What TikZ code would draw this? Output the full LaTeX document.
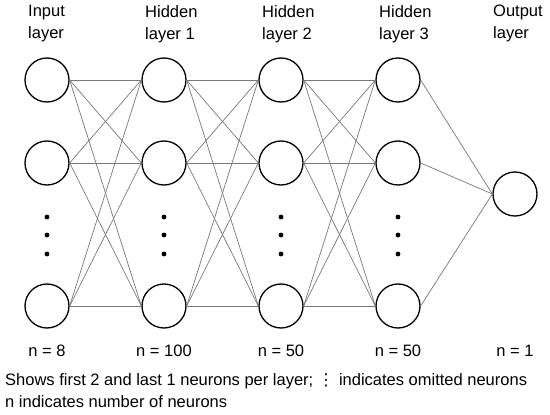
\documentclass[tikz,border=0pt]{standalone}
\usepackage{fontspec}
\setmainfont{Liberation Sans}
\newfontfamily\symfont{DejaVu Sans}
\usepackage{tikz}
\definecolor{linkgray}{RGB}{120,120,120}

\begin{document}
\begin{tikzpicture}[x=1pt, y=-1pt,
  every node/.style={font=\fontsize{16.5}{22}\selectfont, inner sep=0pt},
  neuron/.style={draw=black, fill=white, line width=1.3pt, circle, minimum size=44pt},
  link/.style={draw=linkgray, line width=0.7pt},
  omitted/.style={fill=black}]
  \useasboundingbox (0,0) rectangle (550,415);
  % three shown neurons per layer, dots for the rest
  \foreach \l/\x in {0/47,1/164,2/281,3/398} {
    \node[neuron] (n\l-1) at (\x,80) {};
    \node[neuron] (n\l-2) at (\x,163) {};
    \node[neuron] (n\l-3) at (\x,306) {};
    \foreach \y in {217,235,254}
      \fill[omitted] (\x,\y) circle (2.4pt);
  }
  \node[neuron] (out) at (515,194) {};
  % all links between neighbouring layers
  \foreach \l [evaluate=\l as \m using int(\l+1)] in {0,1,2}
    \foreach \i in {1,2,3}
      \foreach \j in {1,2,3}
        \draw[link] (n\l-\i.east) -- (n\m-\j.west);
  \foreach \i in {1,2,3}
    \draw[link] (n3-\i.east) -- (out.west);
  % layer titles and sizes
  \foreach \x/\n in {47/8, 164/100, 281/50, 398/50, 515/1}
    \node[anchor=base] (size\x) at (\x,356) {n = \n};
  \node[anchor=north west, align=left] (title0) at (28,5) {Input\\layer};
  \node[anchor=north west, align=left] (title1) at (145,5) {Hidden\\layer 1};
  \node[anchor=north west, align=left] (title2) at (262,5) {Hidden\\layer 2};
  \node[anchor=north west, align=left] (title3) at (379,5) {Hidden\\layer 3};
  \node[anchor=north west, align=left] (title4) at (493,5) {Output\\layer};
  % legend
  \node[anchor=base west] (note1) at (5,385) {Shows first 2 and last 1 neurons per layer; {\symfont ⋮} indicates omitted neurons};
  \node[anchor=base west] (note2) at (5,407) {n indicates number of neurons};
\end{tikzpicture}
\end{document}
